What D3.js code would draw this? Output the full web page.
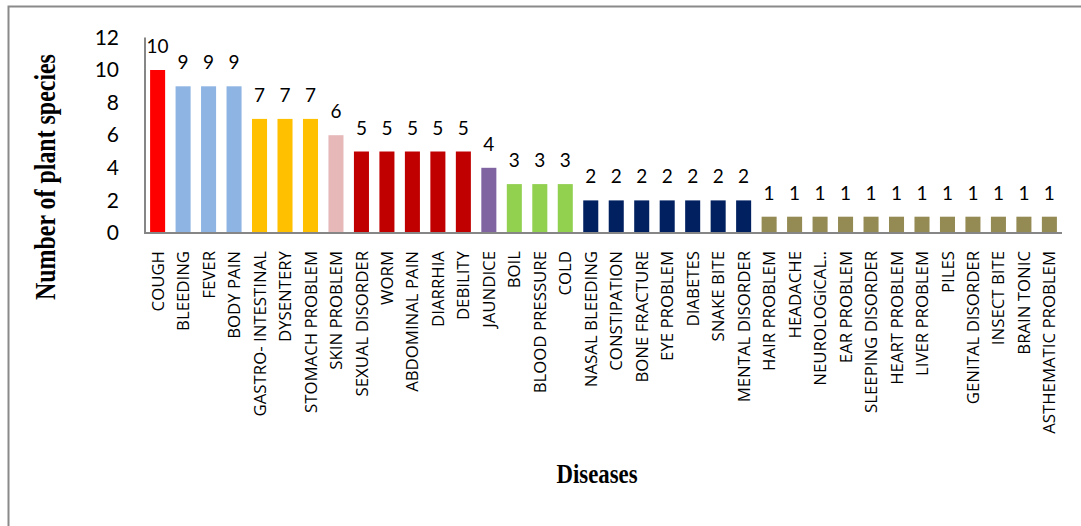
<!DOCTYPE html>
<html><head><meta charset="utf-8">
<script src="https://cdn.jsdelivr.net/npm/d3@7"></script>
<style>body{margin:0;background:#fff;}svg{display:block;}</style>
</head><body><svg id="c" width="1081" height="526"></svg>
<script>
const categories = ["COUGH","BLEEDING","FEVER","BODY PAIN","GASTRO- INTESTINAL","DYSENTERY","STOMACH PROBLEM","SKIN PROBLEM","SEXUAL DISORDER","WORM","ABDOMINAL PAIN","DIARRHIA","DEBILITY","JAUNDICE","BOIL","BLOOD PRESSURE","COLD","NASAL BLEEDING","CONSTIPATION","BONE FRACTURE","EYE PROBLEM","DIABETES","SNAKE BITE","MENTAL DISORDER","HAIR PROBLEM","HEADACHE","NEUROLOGiCAL..","EAR PROBLEM","SLEEPING DISORDER","HEART PROBLEM","LIVER PROBLEM","PILES","GENITAL DISORDER","INSECT BITE","BRAIN TONIC","ASTHEMATIC PROBLEM"];
const values = [10,9,9,9,7,7,7,6,5,5,5,5,5,4,3,3,3,2,2,2,2,2,2,2,1,1,1,1,1,1,1,1,1,1,1,1];
const barColors = ["#FF0000","#8EB4E3","#8EB4E3","#8EB4E3","#FFC000","#FFC000","#FFC000","#E6B9B8","#C00000","#C00000","#C00000","#C00000","#C00000","#8064A2","#92D050","#92D050","#92D050","#002060","#002060","#002060","#002060","#002060","#002060","#002060","#948A54","#948A54","#948A54","#948A54","#948A54","#948A54","#948A54","#948A54","#948A54","#948A54","#948A54","#948A54"];
const yTicks = [0,2,4,6,8,10,12];

const svg = d3.select("#c");
svg.append("rect").attr("x",8.5).attr("y",6.5).attr("width",1200).attr("height",600)
  .attr("fill","none").attr("stroke","#8a8a8a").attr("stroke-width",2);

const x0 = 145, x1 = 1062, yTop = 37.4, yBot = 233;
const x = d3.scaleBand().domain(categories).range([x0,x1]).paddingInner(0.41).paddingOuter(0.2);
const y = d3.scaleLinear().domain([0,12]).range([yBot,yTop]);

const g = svg.append("g");
g.selectAll("rect.bar").data(categories).join("rect").attr("class","bar")
  .attr("x",d=>x(d)).attr("width",x.bandwidth())
  .attr("y",(d,i)=>y(values[i])).attr("height",(d,i)=>yBot-y(values[i]))
  .attr("fill",(d,i)=>barColors[i]);

// y axis
const yAxis = d3.axisLeft(y).tickValues(yTicks).tickSize(0).tickPadding(26);
const ya = svg.append("g").attr("transform",`translate(${x0},0)`).call(yAxis);
ya.select(".domain").remove();
ya.selectAll("text").attr("font-family","Lato, 'Open Sans', sans-serif").attr("font-size",21).attr("fill","#000");
svg.append("line").attr("x1",x0).attr("x2",x0).attr("y1",yTop).attr("y2",yBot+1)
  .attr("stroke","#868686").attr("stroke-width",2);
svg.append("line").attr("x1",x0-1).attr("x2",x1).attr("y1",yBot).attr("y2",yBot)
  .attr("stroke","#868686").attr("stroke-width",2);

// x axis labels
const xAxis = d3.axisBottom(x).tickSize(0).tickPadding(0);
const xa = svg.append("g").attr("transform",`translate(0,${yBot})`).call(xAxis);
xa.select(".domain").remove();
xa.selectAll("text")
  .attr("font-family","'Open Sans', sans-serif").attr("font-size",16.8).attr("fill","#000")
  .attr("text-anchor","end").attr("dy","0.36em")
  .attr("transform","translate(0,18) rotate(-90)");

// data labels
g.selectAll("text.lbl").data(categories).join("text").attr("class","lbl")
  .attr("x",d=>x(d)+x.bandwidth()/2).attr("y",(d,i)=>y(values[i])-17)
  .attr("text-anchor","middle").attr("font-family","Lato, 'Open Sans', sans-serif")
  .attr("font-size",19).attr("fill","#000").text((d,i)=>values[i]);

// titles
svg.append("text").attr("transform","translate(55,177) rotate(-90) scale(0.92,1.12)").attr("text-anchor","middle")
  .attr("font-family","'Liberation Serif', 'Times New Roman', serif").attr("font-weight","bold").attr("font-size",26)
  .text("Number of plant species");
svg.append("text").attr("transform","translate(597,483) scale(0.95,1.15)").attr("text-anchor","middle")
  .attr("font-family","'Liberation Serif', 'Times New Roman', serif").attr("font-weight","bold").attr("font-size",24)
  .text("Diseases");
</script></body></html>
